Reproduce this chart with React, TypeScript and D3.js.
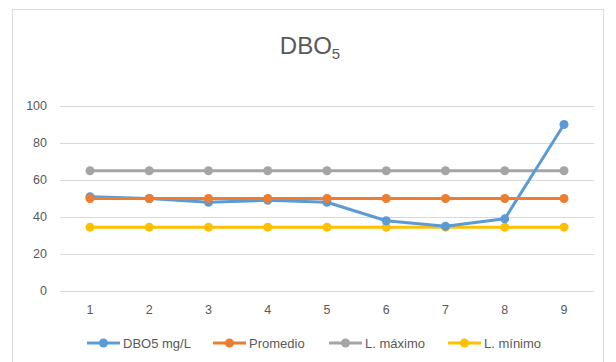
import React from "react";
import * as d3 from "d3";

const categories = ["1", "2", "3", "4", "5", "6", "7", "8", "9"];
const dbo5 = [51, 50, 48, 49, 48, 38, 35, 39, 90];
const promedio = [50, 50, 50, 50, 50, 50, 50, 50, 50];
const lMaximo = [65, 65, 65, 65, 65, 65, 65, 65, 65];
const lMinimo = [34.5, 34.5, 34.5, 34.5, 34.5, 34.5, 34.5, 34.5, 34.5];
const yTicks = [0, 20, 40, 60, 80, 100];

const series = [
  { name: "DBO5 mg/L", values: dbo5, color: "#5B9BD5" },
  { name: "Promedio", values: promedio, color: "#ED7D31" },
  { name: "L. máximo", values: lMaximo, color: "#A5A5A5" },
  { name: "L. mínimo", values: lMinimo, color: "#FFC000" },
];
const drawOrder = [3, 2, 0, 1];

export default function App() {
  const W = 616, H = 362;
  const x = d3.scalePoint<string>().domain(categories).range([90, 564]);
  const y = d3.scaleLinear().domain([0, 100]).range([291, 106]);
  const line = d3
    .line<number>()
    .x((_, i) => x(categories[i])!)
    .y((d) => y(d));
  const font = "'Liberation Sans', Arial, sans-serif";
  const legendX = [87, 213, 329, 448];
  return (
    <svg
      width={W}
      height={H}
      style={{ position: "absolute", left: 0, top: 0 }}
      fontFamily={font}
    >
      <rect x={0} y={0} width={W} height={H} fill="#fff" />
      <rect x={12.5} y={9.5} width={591} height={360} fill="#fff" stroke="#D9D9D9" />
      <text x={310} y={54} textAnchor="middle" fontSize={24} fill="#595959">
        DBO<tspan fontSize={15} dy={5}>5</tspan>
      </text>
      {yTicks.map((t) => (
        <g key={t}>
          <line x1={60} x2={594} y1={y(t) + 0.5} y2={y(t) + 0.5} stroke="#D9D9D9" strokeWidth={1} />
          <text x={47} y={y(t)} dy="0.35em" textAnchor="end" fontSize={12.5} fill="#595959">
            {t}
          </text>
        </g>
      ))}
      {categories.map((c) => (
        <text key={c} x={x(c)!} y={314} textAnchor="middle" fontSize={12.5} fill="#595959">
          {c}
        </text>
      ))}
      {drawOrder.map((si) => {
        const s = series[si];
        return (
          <g key={s.name}>
            <path d={line(s.values)!} fill="none" stroke={s.color} strokeWidth={3} strokeLinejoin="round" />
            {s.values.map((v, i) => (
              <circle key={i} cx={x(categories[i])!} cy={y(v)} r={4.5} fill={s.color} />
            ))}
          </g>
        );
      })}
      {series.map((s, i) => (
        <g key={s.name}>
          <line x1={legendX[i]} x2={legendX[i] + 33} y1={343} y2={343} stroke={s.color} strokeWidth={3} />
          <circle cx={legendX[i] + 16.5} cy={343} r={4.5} fill={s.color} />
          <text x={legendX[i] + 36} y={343} dy="0.35em" fontSize={13} fill="#595959">
            {s.name}
          </text>
        </g>
      ))}
    </svg>
  );
}
